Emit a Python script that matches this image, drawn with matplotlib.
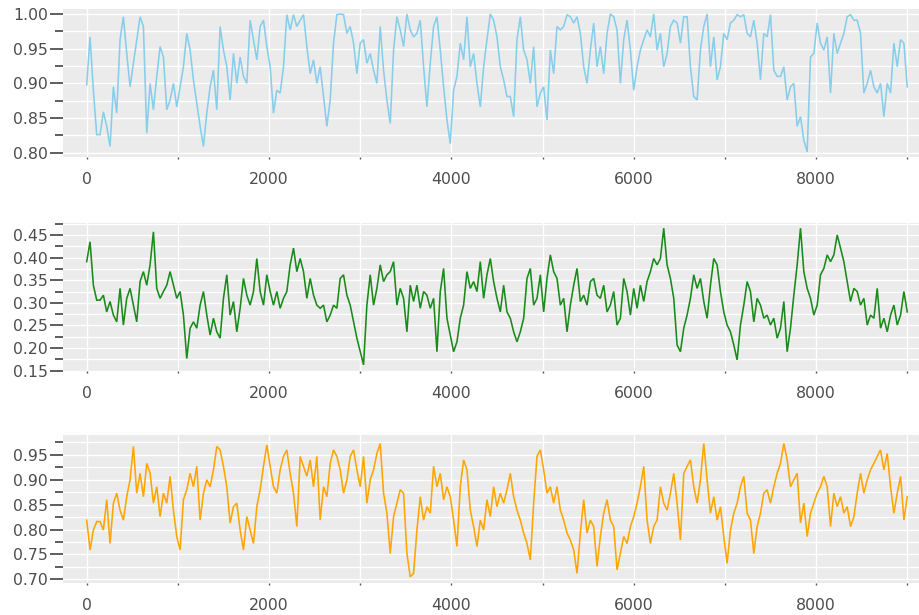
import numpy as np
import matplotlib
matplotlib.use("Agg")
import matplotlib.pyplot as plt
from matplotlib.ticker import MultipleLocator, FormatStrFormatter

# Trace samples for three parameters, 9000 iterations, read at evenly spaced points
theta1 = [
    0.898, 0.967, 0.890, 0.826, 0.826, 0.859, 0.838, 0.809, 0.895, 0.857,
    0.963, 0.996, 0.943, 0.895, 0.929, 0.963, 0.996, 0.982, 0.828, 0.900,
    0.862, 0.910, 0.953, 0.938, 0.862, 0.876, 0.900, 0.866, 0.895, 0.924,
    0.972, 0.948, 0.905, 0.871, 0.838, 0.809, 0.857, 0.895, 0.919, 0.862,
    0.982, 0.948, 0.924, 0.876, 0.943, 0.900, 0.938, 0.910, 0.900, 0.991,
    0.963, 0.934, 0.982, 0.991, 0.953, 0.924, 0.857, 0.890, 0.886, 0.924,
    0.999, 0.977, 0.999, 0.982, 0.991, 0.999, 0.953, 0.914, 0.934, 0.900,
    0.924,
    0.881, 0.838, 0.876, 0.958, 0.999, 1.000, 0.999, 0.972, 0.982, 0.958,
    0.914, 0.958, 0.963, 0.929, 0.943, 0.919, 0.900, 0.982, 0.919, 0.876,
    0.842, 0.948, 0.996, 0.977, 0.953, 1.000, 0.977, 0.967, 0.972, 0.991,
    0.924, 0.866, 0.929, 0.982, 0.996, 0.948, 0.895, 0.847, 0.813, 0.890,
    0.910, 0.958, 0.934, 0.996, 0.924, 0.943, 0.900, 0.866, 0.924, 0.963,
    1.000, 0.991, 0.967, 0.924, 0.905, 0.881, 0.881, 0.852, 0.963, 0.996,
    0.948, 0.934, 0.900, 0.953, 0.866, 0.886, 0.895, 0.847, 0.948, 0.914,
    0.982, 0.977, 0.982, 0.999, 0.996, 0.987, 0.996, 0.972, 0.924, 0.900,
    0.948, 0.987, 0.924, 0.953, 0.914, 0.972, 1.000, 0.996, 0.977, 0.900,
    0.963, 0.991, 0.948, 0.890, 0.924, 0.948, 0.963, 0.977, 0.967, 1.000,
    0.948, 0.972, 0.924, 0.943, 0.982, 0.991, 0.987, 0.958, 0.996, 0.996,
    0.924, 0.881, 0.876, 0.948, 0.982, 1.000, 0.924, 0.967, 0.905, 0.924,
    0.972, 0.963, 0.987, 0.991, 0.999, 0.996, 0.999, 0.972, 0.967, 0.991,
    0.958, 0.905, 0.972, 0.967, 0.999, 0.919, 0.910, 0.910, 0.924, 0.876,
    0.895, 0.900, 0.838, 0.852, 0.818, 0.801, 0.938, 0.943, 0.987, 0.958,
    0.948, 0.967, 0.886, 0.972, 0.943, 0.958, 0.972, 0.996, 0.999, 0.991,
    0.991, 0.972, 0.886, 0.900, 0.919, 0.895, 0.886, 0.900, 0.852, 0.900,
    0.886, 0.958, 0.924, 0.963, 0.958, 0.895,
]

theta2 = [
    0.391, 0.435, 0.339, 0.306, 0.306, 0.317, 0.280, 0.303, 0.273, 0.258,
    0.332, 0.251, 0.310, 0.332, 0.295, 0.258, 0.347, 0.369, 0.339, 0.384,
    0.457, 0.332, 0.310, 0.325, 0.339, 0.369, 0.339, 0.310, 0.325, 0.273,
    0.177, 0.244, 0.258, 0.244, 0.295, 0.325, 0.273, 0.229, 0.266, 0.236,
    0.222, 0.310, 0.362, 0.273, 0.303, 0.236, 0.288, 0.354, 0.317, 0.295,
    0.325, 0.398, 0.325, 0.295, 0.362, 0.325, 0.295, 0.325, 0.288, 0.310,
    0.325, 0.384, 0.421, 0.369, 0.398, 0.369, 0.310, 0.354, 0.317, 0.295,
    0.288,
    0.295, 0.258, 0.273, 0.295, 0.288, 0.354, 0.362, 0.317, 0.295, 0.258,
    0.222, 0.192, 0.163, 0.295, 0.362, 0.295, 0.332, 0.384, 0.347, 0.362,
    0.369, 0.391, 0.295, 0.332, 0.310, 0.236, 0.339, 0.303, 0.339, 0.288,
    0.325, 0.317, 0.288, 0.310, 0.192, 0.325, 0.376, 0.266, 0.229, 0.192,
    0.214, 0.266, 0.295, 0.369, 0.332, 0.347, 0.325, 0.391, 0.310, 0.362,
    0.398, 0.347, 0.310, 0.280, 0.339, 0.280, 0.266, 0.236, 0.214, 0.236,
    0.266, 0.354, 0.376, 0.295, 0.310, 0.362, 0.280, 0.354, 0.406, 0.369,
    0.354, 0.295, 0.310, 0.236, 0.295, 0.339, 0.376, 0.303, 0.317, 0.295,
    0.347, 0.354, 0.317, 0.310, 0.339, 0.280, 0.295, 0.325, 0.251, 0.266,
    0.354, 0.325, 0.273, 0.332, 0.288, 0.339, 0.303, 0.347, 0.369, 0.398,
    0.384, 0.398, 0.465, 0.384, 0.354, 0.310, 0.207, 0.192, 0.244, 0.273,
    0.310, 0.362, 0.332, 0.354, 0.303, 0.266, 0.339, 0.398, 0.384, 0.325,
    0.280, 0.251, 0.236, 0.207, 0.174, 0.251, 0.295, 0.347, 0.325, 0.258,
    0.310, 0.295, 0.266, 0.273, 0.251, 0.266, 0.222, 0.244, 0.303, 0.192,
    0.244, 0.317, 0.384, 0.465, 0.369, 0.332, 0.310, 0.273, 0.295, 0.362,
    0.376, 0.406, 0.391, 0.406, 0.450, 0.421, 0.391, 0.347, 0.303, 0.332,
    0.325, 0.295, 0.310, 0.251, 0.273, 0.266, 0.332, 0.244, 0.266, 0.236,
    0.273, 0.295, 0.251, 0.273, 0.325, 0.280,
]

theta3 = [
    0.819, 0.759, 0.799, 0.816, 0.816, 0.799, 0.860, 0.772, 0.853, 0.873,
    0.839, 0.819, 0.866, 0.900, 0.967, 0.873, 0.913, 0.866, 0.933, 0.913,
    0.853, 0.886, 0.826, 0.873, 0.853, 0.907, 0.839, 0.786, 0.759, 0.860,
    0.880, 0.913, 0.886, 0.927, 0.819, 0.873, 0.900, 0.886, 0.920, 0.967,
    0.960, 0.927, 0.886, 0.813, 0.846, 0.853, 0.799, 0.759, 0.826, 0.799,
    0.772, 0.846, 0.880, 0.927, 0.970, 0.927, 0.886, 0.873, 0.920, 0.947,
    0.960, 0.913, 0.873, 0.806, 0.947, 0.927, 0.907, 0.940, 0.886, 0.947,
    0.819,
    0.886, 0.866, 0.933, 0.960, 0.947, 0.920, 0.873, 0.900, 0.947, 0.960,
    0.920, 0.886, 0.947, 0.853, 0.900, 0.920, 0.953, 0.973, 0.873, 0.833,
    0.752, 0.826, 0.853, 0.880, 0.873, 0.752, 0.705, 0.712, 0.799, 0.866,
    0.819, 0.846, 0.833, 0.927, 0.886, 0.913, 0.860, 0.886, 0.866, 0.819,
    0.766, 0.886, 0.940, 0.920, 0.839, 0.806, 0.766, 0.819, 0.799, 0.860,
    0.826, 0.886, 0.846, 0.873, 0.853, 0.880, 0.913, 0.866, 0.839, 0.819,
    0.793, 0.772, 0.739, 0.853, 0.947, 0.960, 0.920, 0.873, 0.886, 0.853,
    0.886, 0.839, 0.819, 0.793, 0.779, 0.759, 0.712, 0.793, 0.860, 0.793,
    0.819, 0.806, 0.726, 0.786, 0.833, 0.860, 0.819, 0.806, 0.719, 0.752,
    0.786, 0.772, 0.806, 0.826, 0.853, 0.886, 0.927, 0.819, 0.772, 0.806,
    0.819, 0.886, 0.853, 0.839, 0.873, 0.913, 0.853, 0.779, 0.913, 0.927,
    0.940, 0.886, 0.853, 0.900, 0.973, 0.900, 0.833, 0.866, 0.819, 0.846,
    0.786, 0.732, 0.799, 0.833, 0.853, 0.886, 0.907, 0.833, 0.819, 0.752,
    0.806, 0.833, 0.873, 0.880, 0.853, 0.886, 0.913, 0.933, 0.973, 0.940,
    0.886, 0.900, 0.913, 0.813, 0.853, 0.786, 0.833, 0.853, 0.873, 0.886,
    0.907, 0.886, 0.806, 0.873, 0.846, 0.866, 0.833, 0.846, 0.806, 0.826,
    0.873, 0.913, 0.873, 0.900, 0.920, 0.933, 0.947, 0.960, 0.920, 0.953,
    0.886, 0.833, 0.873, 0.907, 0.819, 0.866,
]

n_iter = 9000
series = [theta1, theta2, theta3]
colors = ["#87CEEB", "#1A8A1A", "#FFA500"]
ylims = [(0.7938, 1.0072), (0.1494, 0.4765), (0.6926, 0.990)]
xticks_major = [0, 2000, 4000, 6000, 8000]

W, H = 920, 615
fig = plt.figure(figsize=(W / 100, H / 100), dpi=100)
fig.patch.set_facecolor("white")

left_px, right_px = 63, 920
panels_px = [(9, 157), (223, 371), (435, 583)]

for vals, col, ylim, (top_px, bot_px) in zip(series, colors, ylims, panels_px):
    ax = fig.add_axes([left_px / W, 1 - bot_px / H,
                       (right_px - left_px) / W, (bot_px - top_px) / H])
    ax.set_facecolor("#EBEBEB")
    for s in ax.spines.values():
        s.set_visible(False)

    x = np.linspace(0, n_iter, len(vals))
    ax.plot(x, vals, color=col, lw=1.15, zorder=3, solid_joinstyle="miter")

    ax.set_xlim(-260, 9140)
    ax.set_ylim(*ylim)

    ax.xaxis.set_minor_locator(MultipleLocator(1000))
    ax.yaxis.set_major_locator(MultipleLocator(0.05))
    ax.yaxis.set_minor_locator(MultipleLocator(0.025))
    ax.set_xticks(xticks_major)
    ax.set_xticklabels([str(v) for v in xticks_major])
    ax.yaxis.set_major_formatter(FormatStrFormatter("%.2f"))

    ax.grid(True, which="both", color="white", lw=1.0, zorder=1)
    ax.set_axisbelow(True)

    ax.tick_params(axis="y", which="major", length=9.4, width=1.1,
                   color="#333333", labelcolor="#4D4D4D", labelsize=11.3,
                   pad=1.5)
    ax.tick_params(axis="y", which="minor", length=5.8, width=1.1,
                   color="#333333")
    ax.tick_params(axis="x", which="both", length=1.6, width=1.0,
                   color="#555555", labelcolor="#4D4D4D", labelsize=11.3,
                   pad=9.5)

fig.savefig("out.png", dpi=100)
